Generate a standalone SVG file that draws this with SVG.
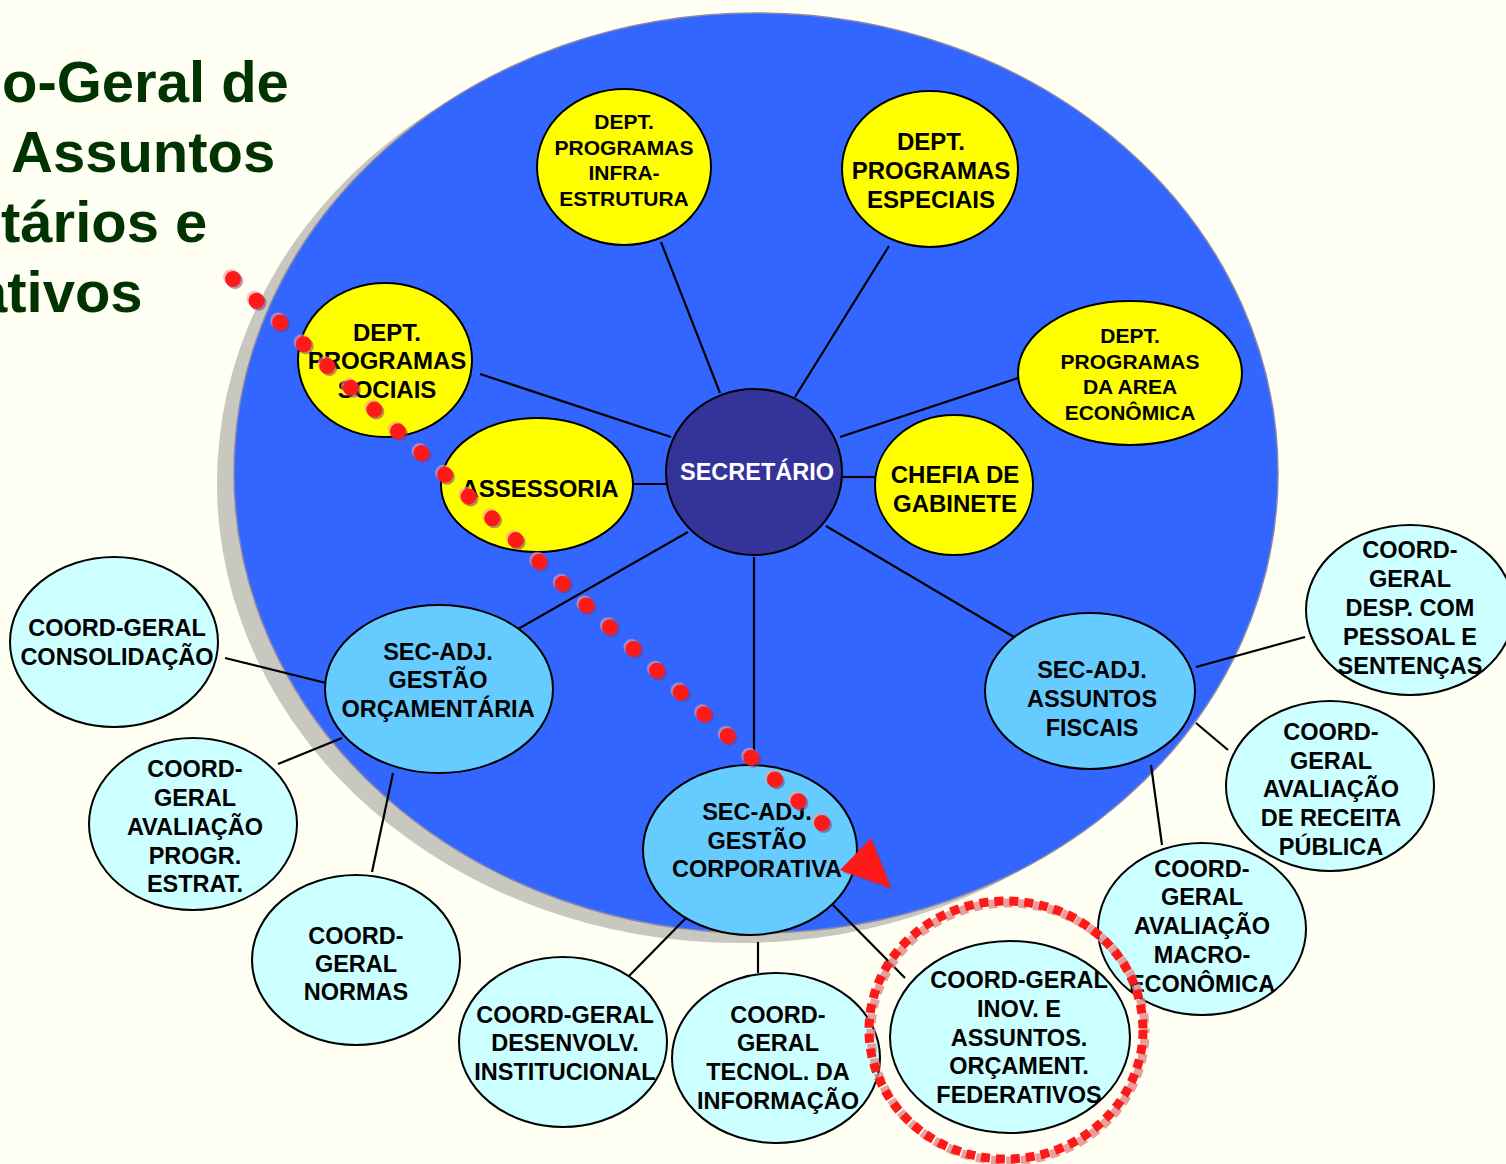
<svg xmlns="http://www.w3.org/2000/svg" width="1506" height="1164" viewBox="0 0 1506 1164">
<style>
text{font-family:"Liberation Sans",Arial,sans-serif;font-weight:bold;text-anchor:middle;fill:#000}
.n{stroke:#000;stroke-width:2}
.y{fill:#ffff00}
.s{fill:#66ccff}
.c{fill:#ccffff}
.t23{font-size:23.5px}
.t24{font-size:24px}
.t21{font-size:21px}
.con line{stroke:#000;stroke-width:2.2}
.title{fill:#003300;font-size:58px;text-anchor:start}
</style>
<rect width="1506" height="1164" fill="#fffff4"/>
<g id="title">
<text class="title" x="2" y="102">o-Geral de</text>
<text class="title" x="11" y="172">Assuntos</text>
<text class="title" x="1" y="242">tários e</text>
<text class="title" x="-25" y="312">ativos</text>
</g>
<g id="background">
<ellipse cx="739" cy="483" rx="522" ry="460" fill="#c8c8c0"/>
<ellipse cx="756" cy="473" rx="522" ry="460" fill="#3366ff" stroke="#8888aa" stroke-width="1.5"/>
</g>
<g class="con" id="connectors">
<line x1="720" y1="393" x2="661" y2="242"/>
<line x1="795" y1="397" x2="889" y2="246"/>
<line x1="671" y1="437" x2="480" y2="374"/>
<line x1="840" y1="437" x2="1018" y2="378"/>
<line x1="633" y1="484" x2="675" y2="484"/>
<line x1="843" y1="477" x2="875" y2="477"/>
<line x1="688" y1="532" x2="490" y2="645"/>
<line x1="754" y1="557" x2="754" y2="768"/>
<line x1="826" y1="526" x2="1014" y2="637"/>
<line x1="225" y1="658" x2="330" y2="684"/>
<line x1="342" y1="738" x2="278" y2="764"/>
<line x1="393" y1="773" x2="372" y2="872"/>
<line x1="686" y1="918" x2="628" y2="977"/>
<line x1="758" y1="942" x2="758" y2="973"/>
<line x1="833" y1="905" x2="905" y2="978"/>
<line x1="1196" y1="667" x2="1305" y2="637"/>
<line x1="1196" y1="723" x2="1228" y2="750"/>
<line x1="1151" y1="765" x2="1162" y2="845"/>
</g>
<g id="secretario">
<ellipse class="n" cx="754" cy="472" rx="88" ry="83" fill="#333399"/>
<text class="t23" x="757" y="480" style="fill:#fff">SECRETÁRIO</text>
</g>
<g id="dept-infra">
<ellipse class="n y" cx="624" cy="167" rx="87" ry="78"/>
<text class="t21"><tspan x="624" y="129">DEPT.</tspan><tspan x="624" y="155">PROGRAMAS</tspan><tspan x="624" y="180">INFRA-</tspan><tspan x="624" y="206">ESTRUTURA</tspan></text>
</g>
<g id="dept-especiais">
<ellipse class="n y" cx="930" cy="169" rx="88" ry="78"/>
<text class="t24"><tspan x="931" y="150">DEPT.</tspan><tspan x="931" y="179">PROGRAMAS</tspan><tspan x="931" y="208">ESPECIAIS</tspan></text>
</g>
<g id="dept-sociais">
<ellipse class="n y" cx="385" cy="360" rx="87" ry="77"/>
<text class="t24"><tspan x="387" y="341">DEPT.</tspan><tspan x="387" y="369">PROGRAMAS</tspan><tspan x="387" y="398">SOCIAIS</tspan></text>
</g>
<g id="dept-economica">
<ellipse class="n y" cx="1130" cy="373" rx="112" ry="72"/>
<text class="t21"><tspan x="1130" y="343">DEPT.</tspan><tspan x="1130" y="369">PROGRAMAS</tspan><tspan x="1130" y="394">DA AREA</tspan><tspan x="1130" y="420">ECONÔMICA</tspan></text>
</g>
<g id="assessoria">
<ellipse class="n y" cx="537" cy="485" rx="96" ry="67"/>
<text class="t24" x="540" y="497">ASSESSORIA</text>
</g>
<g id="chefia">
<ellipse class="n y" cx="954" cy="485" rx="79" ry="70"/>
<text class="t24"><tspan x="955" y="483">CHEFIA DE</tspan><tspan x="955" y="512">GABINETE</tspan></text>
</g>
<g id="sec-orcamentaria">
<ellipse class="n s" cx="439" cy="689" rx="114" ry="84"/>
<text class="t23"><tspan x="438" y="660">SEC-ADJ.</tspan><tspan x="438" y="688">GESTÃO</tspan><tspan x="438" y="717">ORÇAMENTÁRIA</tspan></text>
</g>
<g id="sec-fiscais">
<ellipse class="n s" cx="1090" cy="691" rx="105" ry="78"/>
<text class="t23"><tspan x="1092" y="678">SEC-ADJ.</tspan><tspan x="1092" y="707">ASSUNTOS</tspan><tspan x="1092" y="736">FISCAIS</tspan></text>
</g>
<g id="sec-corporativa">
<ellipse class="n s" cx="750" cy="850" rx="107" ry="85"/>
<text class="t23"><tspan x="757" y="820">SEC-ADJ.</tspan><tspan x="757" y="849">GESTÃO</tspan><tspan x="757" y="877">CORPORATIVA</tspan></text>
</g>
<g id="cg-consolidacao">
<ellipse class="n c" cx="114" cy="642" rx="104" ry="85"/>
<text class="t23"><tspan x="117" y="636">COORD-GERAL</tspan><tspan x="117" y="665">CONSOLIDAÇÃO</tspan></text>
</g>
<g id="cg-aval-progr">
<ellipse class="n c" cx="193" cy="824" rx="104" ry="86"/>
<text class="t23"><tspan x="195" y="777">COORD-</tspan><tspan x="195" y="806">GERAL</tspan><tspan x="195" y="835">AVALIAÇÃO</tspan><tspan x="195" y="864">PROGR.</tspan><tspan x="195" y="892">ESTRAT.</tspan></text>
</g>
<g id="cg-normas">
<ellipse class="n c" cx="356" cy="960" rx="104" ry="85"/>
<text class="t23"><tspan x="356" y="944">COORD-</tspan><tspan x="356" y="972">GERAL</tspan><tspan x="356" y="1000">NORMAS</tspan></text>
</g>
<g id="cg-desenvolv">
<ellipse class="n c" cx="563" cy="1042" rx="104" ry="85"/>
<text class="t23"><tspan x="565" y="1023">COORD-GERAL</tspan><tspan x="565" y="1051">DESENVOLV.</tspan><tspan x="565" y="1080">INSTITUCIONAL</tspan></text>
</g>
<g id="cg-tecnol">
<ellipse class="n c" cx="776" cy="1058" rx="104" ry="85"/>
<text class="t23"><tspan x="778" y="1023">COORD-</tspan><tspan x="778" y="1051">GERAL</tspan><tspan x="778" y="1080">TECNOL. DA</tspan><tspan x="778" y="1109">INFORMAÇÃO</tspan></text>
</g>
<g id="cg-inov">
<ellipse class="n c" cx="1010" cy="1037" rx="120" ry="96"/>
<text class="t23"><tspan x="1019" y="988">COORD-GERAL</tspan><tspan x="1019" y="1017">INOV. E</tspan><tspan x="1019" y="1046">ASSUNTOS.</tspan><tspan x="1019" y="1074">ORÇAMENT.</tspan><tspan x="1019" y="1103">FEDERATIVOS</tspan></text>
</g>
<g id="cg-macro">
<ellipse class="n c" cx="1202" cy="929" rx="104" ry="86"/>
<text class="t23"><tspan x="1202" y="877">COORD-</tspan><tspan x="1202" y="905">GERAL</tspan><tspan x="1202" y="934">AVALIAÇÃO</tspan><tspan x="1202" y="963">MACRO-</tspan><tspan x="1202" y="992">ECONÔMICA</tspan></text>
</g>
<g id="cg-receita">
<ellipse class="n c" cx="1330" cy="786" rx="104" ry="85"/>
<text class="t23"><tspan x="1331" y="740">COORD-</tspan><tspan x="1331" y="769">GERAL</tspan><tspan x="1331" y="797">AVALIAÇÃO</tspan><tspan x="1331" y="826">DE RECEITA</tspan><tspan x="1331" y="855">PÚBLICA</tspan></text>
</g>
<g id="cg-desp">
<ellipse class="n c" cx="1410" cy="610" rx="104" ry="85"/>
<text class="t23"><tspan x="1410" y="558">COORD-</tspan><tspan x="1410" y="587">GERAL</tspan><tspan x="1410" y="616">DESP. COM</tspan><tspan x="1410" y="645">PESSOAL E</tspan><tspan x="1410" y="674">SENTENÇAS</tspan></text>
</g>
<g id="highlight">
<ellipse cx="1008" cy="1032" rx="137" ry="129" fill="none" stroke="#e08888" stroke-opacity="0.8" stroke-width="9" stroke-dasharray="9 6" stroke-dashoffset="8"/>
<ellipse cx="1006" cy="1030" rx="137" ry="129" fill="none" stroke="#ff1a1a" stroke-width="9" stroke-dasharray="9 6"/>
<line x1="235" y1="281" x2="824" y2="825" stroke="#7a3a7a" stroke-opacity="0.55" stroke-width="16" stroke-linecap="round" stroke-dasharray="0 32.07"/>
<line x1="231" y1="277" x2="820" y2="821" stroke="#ff9a9a" stroke-opacity="0.6" stroke-width="16" stroke-linecap="round" stroke-dasharray="0 32.07"/>
<line x1="233" y1="279" x2="822" y2="823" stroke="#ff1a1a" stroke-width="16" stroke-linecap="round" stroke-dasharray="0 32.07"/>
<polygon points="842,872 873,840 893,890" fill="#7a3a7a" fill-opacity="0.5"/>
<polygon points="840,870 871,838 891,888" fill="#ff1a1a"/>
</g>
</svg>
